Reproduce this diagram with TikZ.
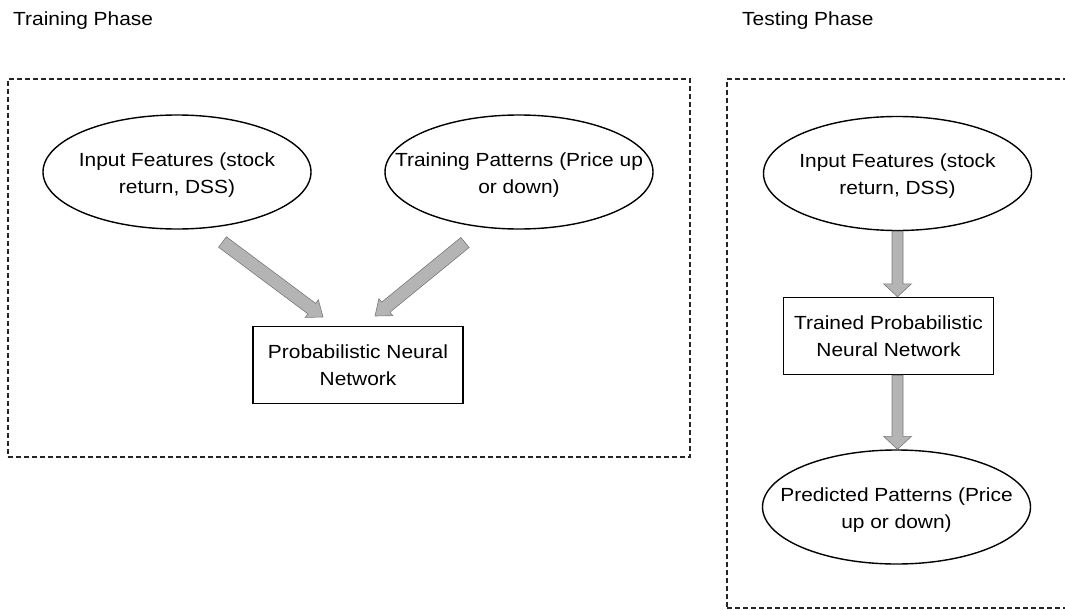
\documentclass[tikz,border=0pt]{standalone}
\usepackage{fontspec}
\setmainfont[FakeStretch=1.1]{Liberation Sans}
\usetikzlibrary{shapes.geometric,calc}

\definecolor{arrowfill}{HTML}{B4B4B4}
\definecolor{arrowline}{HTML}{7A7A7A}

\tikzset{
  txt/.style={font=\fontsize{19}{27}\selectfont, align=center, inner sep=0pt},
  elltxt/.style={txt, yshift=-3pt},
  ell/.style={draw=black, line width=1.4pt, ellipse, inner sep=0pt,
              minimum width=268pt, minimum height=114pt},
  boxnode/.style={draw=black, line width=1.4pt, inner sep=0pt,
                  minimum width=210pt, minimum height=77pt},
  dashbox/.style={draw=black!85, line width=1.1pt, dash pattern=on 5pt off 3pt, inner sep=0pt},
  blockarrow/.style={fill=arrowfill, draw=arrowline, line width=0.6pt, line join=miter},
  title/.style={font=\fontsize{19}{23}\selectfont, anchor=base west, inner sep=0pt}
}

% block arrow: #1 tail, #2 tip, #3 shaft half width, #4 head half width, #5 head length
\newcommand{\blockarrow}[5]{%
  \coordinate (hb) at ($(#2)!#5!(#1)$);
  \filldraw[blockarrow]
    ($(#1)!#3!90:(#2)$) -- ($(hb)!#3!90:(#2)$) -- ($(hb)!#4!90:(#2)$) --
    (#2) --
    ($(hb)!#4!-90:(#2)$) -- ($(hb)!#3!-90:(#2)$) -- ($(#1)!#3!-90:(#2)$) -- cycle;
}

\begin{document}
\begin{tikzpicture}[x=1pt,y=-1pt]
  \useasboundingbox (0,0) rectangle (1065,610);

  % phase titles
  \node[title] (ttrain) at (13,26) {Training Phase};
  \node[title] (ttest) at (742,26) {Testing Phase};

  % phase frames
  \node[dashbox, minimum width=682pt, minimum height=378pt] (trainframe) at (349,268) {};
  \node[dashbox, minimum width=350pt, minimum height=529pt] (testframe) at (902,343.5) {};

  % training phase
  \node[ell, label={[elltxt]center:Input Features (stock\\return, DSS)}] (inA) at (177,172) {};
  \node[ell, label={[elltxt]center:Training Patterns (Price up\\or down)}] (pat) at (519,172) {};
  \node[boxnode, txt] (pnn) at (358,365) {Probabilistic Neural\\Network};

  \coordinate (a1tail) at (222.5,242);
  \coordinate (a1tip) at (323,317);
  \coordinate (a2tail) at (465,242.5);
  \coordinate (a2tip) at (375,316);
  \blockarrow{a1tail}{a1tip}{6.5pt}{11pt}{14pt}
  \blockarrow{a2tail}{a2tip}{6.5pt}{11pt}{14pt}

  % testing phase
  \node[ell, label={[elltxt]center:Input Features (stock\\return, DSS)}] (inB) at (897.5,173.5) {};
  \node[boxnode, txt] (tpnn) at (888.5,336) {Trained Probabilistic\\Neural Network};
  \node[ell, label={[elltxt]center:Predicted Patterns (Price\\up or down)}] (pred) at (896.5,507) {};

  \coordinate (b1tip) at (inB.south |- tpnn.north);
  \coordinate (b2tail) at (tpnn.south -| inB.south);
  \coordinate (b2tip) at (b2tail |- pred.north);
  \blockarrow{inB.south}{b1tip}{5.5pt}{14pt}{13pt}
  \blockarrow{b2tail}{b2tip}{5.5pt}{14pt}{13pt}
\end{tikzpicture}
\end{document}
